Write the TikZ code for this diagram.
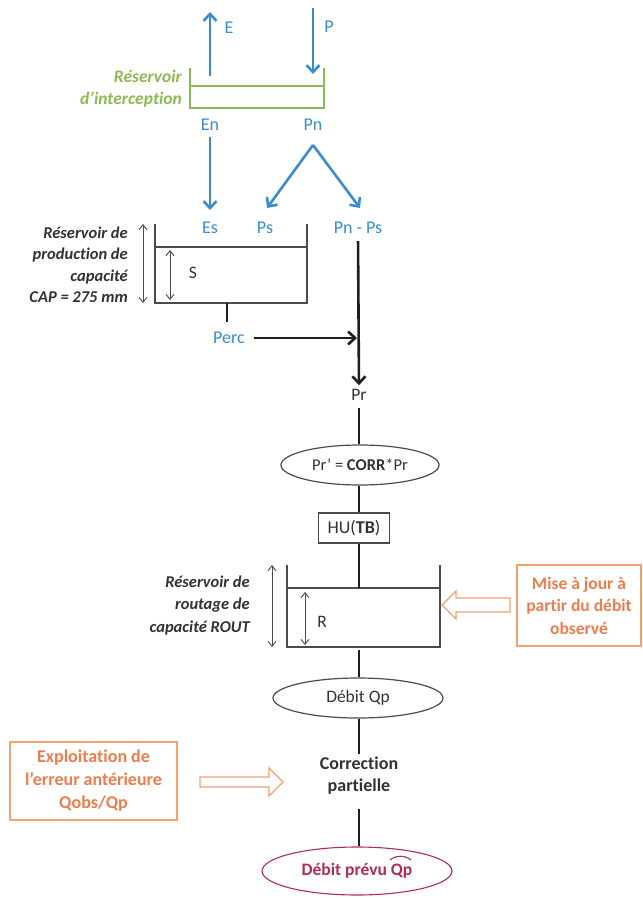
\documentclass[tikz,border=0pt]{standalone}
\usepackage{fontspec}
\setmainfont{Carlito}[Ligatures=NoCommon]
\usetikzlibrary{arrows.meta,shapes.geometric}
\definecolor{bl}{RGB}{58,140,206}
\definecolor{gr}{RGB}{140,186,82}
\definecolor{org}{RGB}{238,125,78}
\definecolor{orgl}{RGB}{244,160,112}
\definecolor{dred}{RGB}{178,44,78}
\definecolor{txt}{RGB}{50,50,50}
\definecolor{resv}{RGB}{75,75,75}
\definecolor{blk}{RGB}{30,30,30}
\begin{document}
\begin{tikzpicture}[x=1pt,y=-1pt,
  every node/.style={font=\fontsize{17.5}{22}\selectfont, inner sep=1pt, text=txt},
  bluelab/.style={text=bl, font=\fontsize{18}{22}\selectfont},
  bluearrow/.style={draw=bl, line width=2.6pt, -{Straight Barb[length=7pt,width=13pt]}},
  blkline/.style={draw=blk, line width=2.6pt},
  blkarrow/.style={blkline, -{Straight Barb[length=7pt,width=13pt]}},
  resline/.style={draw=resv, line width=1.4pt},
  dimarrow/.style={draw=resv, line width=0.9pt, {Straight Barb[length=5pt,width=8pt]}-{Straight Barb[length=5pt,width=8pt]}},
  sidelab/.style={align=right, anchor=east, font=\fontsize{16.5}{22}\selectfont\bfseries\itshape},
  ellnode/.style={ellipse, draw=resv, line width=1.2pt, inner sep=0pt},
  orangebox/.style={draw=orgl, line width=1.4pt, text=org, font=\fontsize{17.5}{22.5}\selectfont\bfseries, align=center},
  hollow/.style={draw=orgl, line width=1.3pt, fill=white}
]
\useasboundingbox (0,0) rectangle (643,898);

% interception reservoir
\draw[draw=gr, line width=1.4pt] (190,68) -- (190,108) -- (324,108) -- (324,68);
\draw[draw=gr, line width=1.4pt] (190,86) -- (324,86);
\node[sidelab, text=gr, font=\fontsize{17.5}{22}\selectfont\bfseries\itshape] (intlab) at (183,89) {Réservoir\\d’interception};

\coordinate (ebase) at (210,76);
\coordinate (etop) at (210,12);
\draw[bluearrow] (ebase) -- (etop);
\node[bluelab] (E) at (229,28) {E};
\coordinate (ptop) at (313,8);
\coordinate (pbase) at (313,74);
\draw[bluearrow] (ptop) -- (pbase);
\node[bluelab] (P) at (329,27) {P};

\node[bluelab] (En) at (210,125) {En};
\node[bluelab] (Pn) at (313,125) {Pn};
\coordinate (esin) at (210,210);
\draw[bluearrow, shorten <=5pt] (En.south) -- (esin);
\coordinate (apex) at (313,145);
\coordinate (psin) at (267,208);
\coordinate (pnpsin) at (360,208);
\draw[bluearrow] (apex) -- (psin);
\draw[bluearrow] (apex) -- (pnpsin);
\node[bluelab] (Es) at (210,228) {Es};
\node[bluelab] (Ps) at (265,228) {Ps};
\node[bluelab] (pnps) at (358,228) {Pn - Ps};

% production reservoir
\draw[resline] (155,224) -- (155,303) -- (307,303) -- (307,224);
\draw[resline] (155,247) -- (307,247);
\draw[dimarrow] (143,224) -- (143,303);
\draw[dimarrow] (170,250) -- (170,300);
\node (S) at (193,273) {S};
\node[sidelab, font=\fontsize{16.5}{21.5}\selectfont\bfseries\itshape] (prodlab) at (129,265) {Réservoir de\\production de\\capacité\\CAP = 275 mm};

\coordinate (percbase) at (227,303);
\coordinate (percend) at (227,322);
\draw[blkline, line width=2.2pt] (percbase) -- (percend);
\node[bluelab] (perc) at (229,338) {Perc};
\coordinate (perctip) at (357,338);
\draw[blkarrow, shorten <=8pt] (perc.east) -- (perctip);

\node (pr) at (359,395) {Pr};
\draw[blkarrow, shorten <=6pt, shorten >=3pt] (pnps.south) -- (pr.north);

\node[ellnode, minimum width=158, minimum height=40, font=\fontsize{16.5}{20}\selectfont] (corr) at (360,465) {Pr’ = \textbf{CORR}*Pr};
\draw[blkline, shorten <=6pt] (pr.south) -- (pr.south |- corr.north);

\node[draw=resv, line width=1.2pt, minimum width=71, minimum height=30, font=\fontsize{18}{20}\selectfont] (hu) at (354,528) {HU(\textbf{TB})};
\draw[blkline] (pr.south |- corr.south) -- (pr.south |- hu.north);

% routing reservoir
\draw[resline] (287,565) -- (287,647) -- (440,647) -- (440,565);
\draw[resline] (287,588) -- (440,588);
\coordinate (rwater) at (359,588);
\coordinate (rbottom) at (359,647);
\draw[blkline] (pr.south |- hu.south) -- (rwater);
\draw[dimarrow] (272,565) -- (272,647);
\draw[dimarrow] (305,592) -- (305,645);
\node (R) at (322,622) {R};
\node[sidelab, font=\fontsize{16.5}{22.5}\selectfont\bfseries\itshape] (routlab) at (251,605) {Réservoir de\\routage de\\capacité ROUT};

\node[orangebox, minimum width=124, minimum height=81] (maj) at (579,605.5) {Mise à jour à\\partir du débit\\observé};
\draw[hollow] (510,598) -- (456,598) -- (456,591) -- (442,605) -- (456,619) -- (456,612) -- (510,612) -- cycle;

\node[ellnode, minimum width=170, minimum height=40] (qp) at (358,698) {Débit Qp};
\draw[blkline, shorten <=3pt] (rbottom) -- (rbottom |- qp.north);

\node[font=\fontsize{18}{22}\selectfont\bfseries, align=center] (corrp) at (359,776) {Correction\\partielle};
\draw[blkline, shorten >=2pt] (rbottom |- qp.south) -- (rbottom |- corrp.north);

\node[orangebox, minimum width=167, minimum height=78, font=\fontsize{18}{23}\selectfont\bfseries] (expl) at (93.5,781) {Exploitation de\\l’erreur antérieure\\Qobs/Qp};
\draw[hollow] (200,777) -- (269,777) -- (269,768) -- (283,782) -- (269,796) -- (269,787) -- (200,787) -- cycle;

\node[ellipse, draw=dred, line width=1.1pt, inner sep=0pt, minimum width=190, minimum height=48, text=dred, font=\fontsize{17.5}{22}\selectfont\bfseries] (prevu) at (357,871) {Débit prévu Qp};
\draw[dred, line width=1.1pt] ([xshift=33pt,yshift=11pt]prevu.center) .. controls ([xshift=39pt,yshift=16pt]prevu.center) and ([xshift=48pt,yshift=16pt]prevu.center) .. ([xshift=54pt,yshift=11pt]prevu.center);
\draw[blkline, shorten <=13pt] (rbottom |- corrp.south) -- (rbottom |- prevu.north);
\end{tikzpicture}
\end{document}
